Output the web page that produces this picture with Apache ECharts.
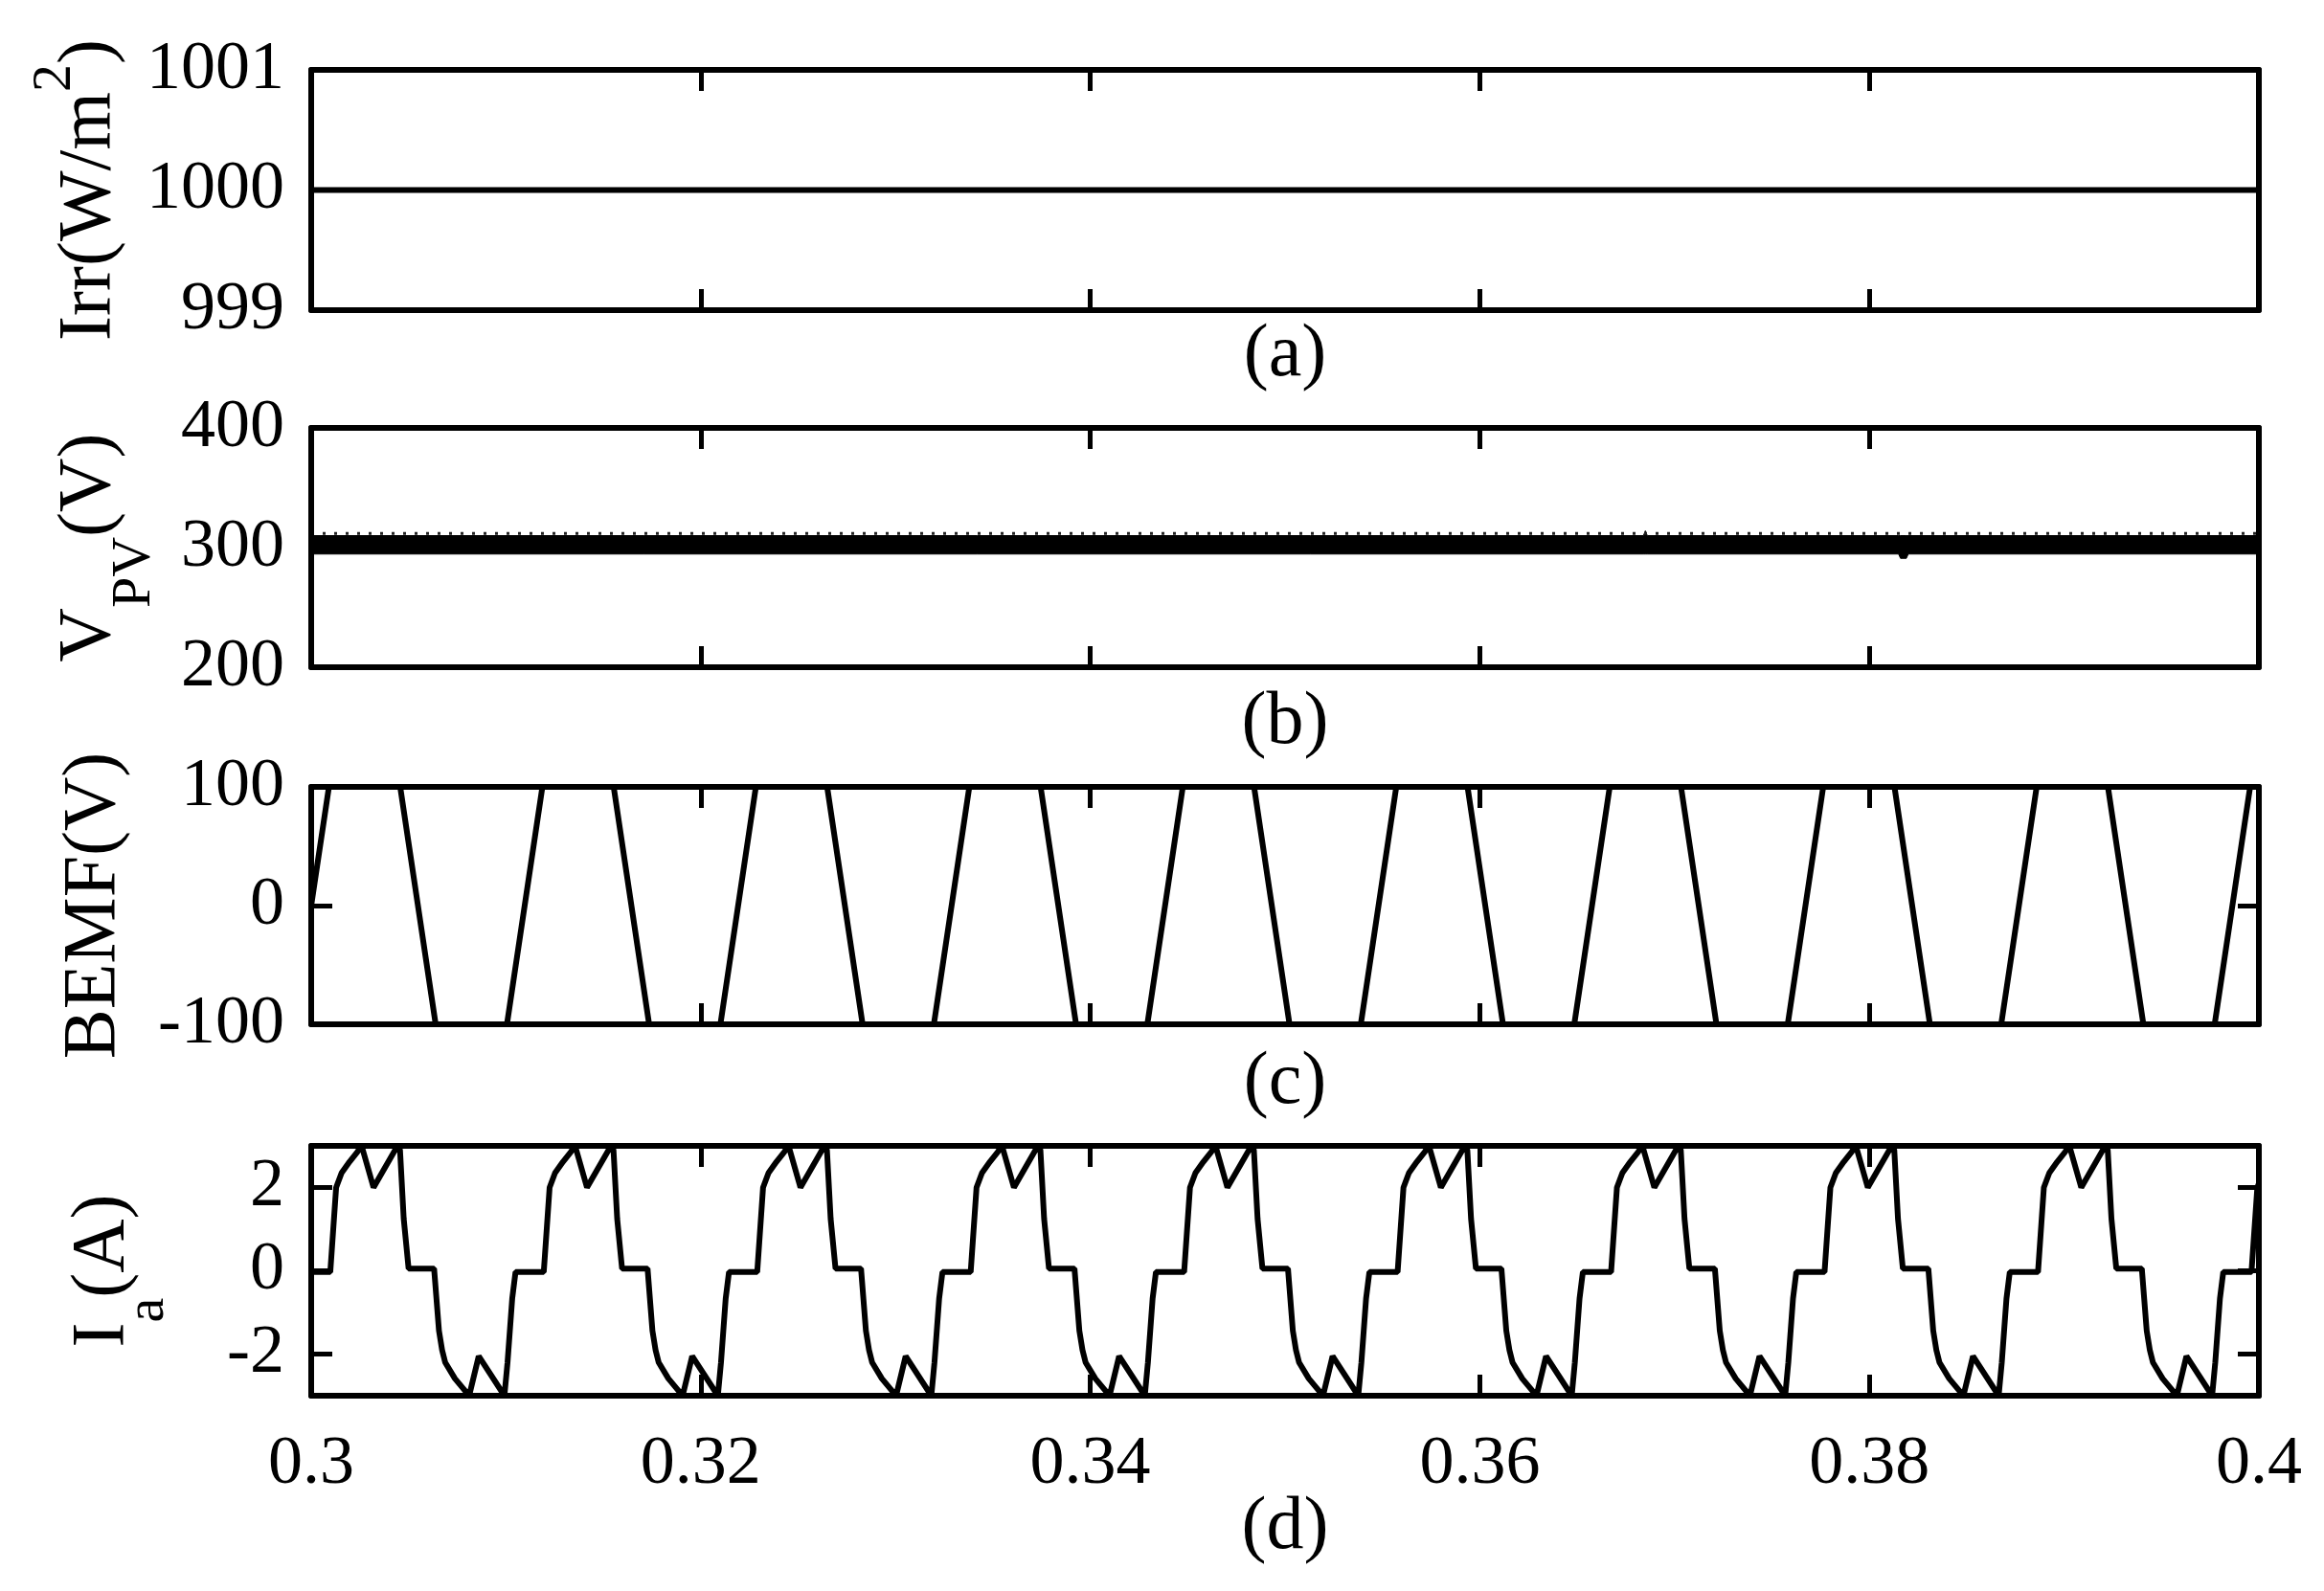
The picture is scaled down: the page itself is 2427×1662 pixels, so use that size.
<!DOCTYPE html>
<html><head><meta charset="utf-8">
<script src="https://cdn.jsdelivr.net/npm/echarts@6/dist/echarts.min.js"></script>
<style>html,body{margin:0;padding:0;background:#fff}#c{width:2427px;height:1662px}</style>
</head><body><div id="c"></div>
<script>
// ---------- data ----------
const xTicks = [0.3, 0.32, 0.34, 0.36, 0.38, 0.4];
const xTickLabels = ['0.3', '0.32', '0.34', '0.36', '0.38', '0.4'];
const yTicksIrr = [999, 1000, 1001];
const yTicksVpv = [200, 300, 400];
const yTicksBemf = [-100, 0, 100];
const yTicksIa = [-2, 0, 2];

const irrTime = [0.3, 0.4];
const irrValue = [1000, 1000];

const vpvTime  = [0.3,   0.3684, 0.3685, 0.3686, 0.3815, 0.3816, 0.3819, 0.382, 0.4];
const vpvUpper = [310,   310,    314,    310,    310,    310,    310,    310,   310];
const vpvLower = [294.6, 294.6,  294.6,  294.6,  294.6,  291,    291,    294.6, 294.6];
const vpvRippleTime = [0.3, 0.4];
const vpvRippleValue = [311.8, 311.8];

const bemfTime = [0.3,
  0.30091, 0.30457, 0.30639, 0.31005,
  0.31187, 0.31553, 0.31735, 0.32101,
  0.32283, 0.32649, 0.32831, 0.33197,
  0.33379, 0.33745, 0.33927, 0.34293,
  0.34475, 0.34841, 0.35023, 0.35389,
  0.35571, 0.35937, 0.36119, 0.36485,
  0.36667, 0.37033, 0.37215, 0.37581,
  0.37763, 0.38129, 0.38311, 0.38677,
  0.38859, 0.39225, 0.39407, 0.39773,
  0.39955, 0.4];
const bemfValue = [0,
  100, 100, -100, -100,
  100, 100, -100, -100,
  100, 100, -100, -100,
  100, 100, -100, -100,
  100, 100, -100, -100,
  100, 100, -100, -100,
  100, 100, -100, -100,
  100, 100, -100, -100,
  100, 100, -100, -100,
  100, 100];

const iaTime = [0.3,
  0.30098,0.30128,0.30156,0.30197,0.30238,0.30259,0.30320,0.30443,0.30456,0.30475,0.30500,0.30631,0.30656,0.30672,0.30688,0.30738,0.30779,0.30811,0.30860,0.30992,0.31008,0.31032,0.31049,
  0.31194,0.31224,0.31252,0.31293,0.31334,0.31355,0.31416,0.31539,0.31552,0.31571,0.31596,0.31727,0.31752,0.31768,0.31784,0.31834,0.31875,0.31907,0.31956,0.32088,0.32104,0.32128,0.32145,
  0.32290,0.32320,0.32348,0.32389,0.32430,0.32451,0.32512,0.32635,0.32648,0.32667,0.32692,0.32823,0.32848,0.32864,0.32880,0.32930,0.32971,0.33003,0.33052,0.33184,0.33200,0.33224,0.33241,
  0.33386,0.33416,0.33444,0.33485,0.33526,0.33547,0.33608,0.33731,0.33744,0.33763,0.33788,0.33919,0.33944,0.33960,0.33976,0.34026,0.34067,0.34099,0.34148,0.34280,0.34296,0.34320,0.34337,
  0.34482,0.34512,0.34540,0.34581,0.34622,0.34643,0.34704,0.34827,0.34840,0.34859,0.34884,0.35015,0.35040,0.35056,0.35072,0.35122,0.35163,0.35195,0.35244,0.35376,0.35392,0.35416,0.35433,
  0.35578,0.35608,0.35636,0.35677,0.35718,0.35739,0.35800,0.35923,0.35936,0.35955,0.35980,0.36111,0.36136,0.36152,0.36168,0.36218,0.36259,0.36291,0.36340,0.36472,0.36488,0.36512,0.36529,
  0.36674,0.36704,0.36732,0.36773,0.36814,0.36835,0.36896,0.37019,0.37032,0.37051,0.37076,0.37207,0.37232,0.37248,0.37264,0.37314,0.37355,0.37387,0.37436,0.37568,0.37584,0.37608,0.37625,
  0.37770,0.37800,0.37828,0.37869,0.37910,0.37931,0.37992,0.38115,0.38128,0.38147,0.38172,0.38303,0.38328,0.38344,0.38360,0.38410,0.38451,0.38483,0.38532,0.38664,0.38680,0.38704,0.38721,
  0.38866,0.38896,0.38924,0.38965,0.39006,0.39027,0.39088,0.39211,0.39224,0.39243,0.39268,0.39399,0.39424,0.39440,0.39456,0.39506,0.39547,0.39579,0.39628,0.39760,0.39776,0.39800,0.39817,
  0.39962,0.39992,0.40020];
const iaValue = [-0.03,
  -0.03,2.0,2.35,2.62,2.86,3.0,2.0,3.0,2.9,1.25,0.05,0.05,-1.44,-1.9,-2.2,-2.59,-2.82,-3.0,-2.05,-3.0,-2.2,-0.67,-0.03,
  -0.03,2.0,2.35,2.62,2.86,3.0,2.0,3.0,2.9,1.25,0.05,0.05,-1.44,-1.9,-2.2,-2.59,-2.82,-3.0,-2.05,-3.0,-2.2,-0.67,-0.03,
  -0.03,2.0,2.35,2.62,2.86,3.0,2.0,3.0,2.9,1.25,0.05,0.05,-1.44,-1.9,-2.2,-2.59,-2.82,-3.0,-2.05,-3.0,-2.2,-0.67,-0.03,
  -0.03,2.0,2.35,2.62,2.86,3.0,2.0,3.0,2.9,1.25,0.05,0.05,-1.44,-1.9,-2.2,-2.59,-2.82,-3.0,-2.05,-3.0,-2.2,-0.67,-0.03,
  -0.03,2.0,2.35,2.62,2.86,3.0,2.0,3.0,2.9,1.25,0.05,0.05,-1.44,-1.9,-2.2,-2.59,-2.82,-3.0,-2.05,-3.0,-2.2,-0.67,-0.03,
  -0.03,2.0,2.35,2.62,2.86,3.0,2.0,3.0,2.9,1.25,0.05,0.05,-1.44,-1.9,-2.2,-2.59,-2.82,-3.0,-2.05,-3.0,-2.2,-0.67,-0.03,
  -0.03,2.0,2.35,2.62,2.86,3.0,2.0,3.0,2.9,1.25,0.05,0.05,-1.44,-1.9,-2.2,-2.59,-2.82,-3.0,-2.05,-3.0,-2.2,-0.67,-0.03,
  -0.03,2.0,2.35,2.62,2.86,3.0,2.0,3.0,2.9,1.25,0.05,0.05,-1.44,-1.9,-2.2,-2.59,-2.82,-3.0,-2.05,-3.0,-2.2,-0.67,-0.03,
  -0.03,2.0,2.35,2.62,2.86,3.0,2.0,3.0,2.9,1.25,0.05,0.05,-1.44,-1.9,-2.2,-2.59,-2.82,-3.0,-2.05,-3.0,-2.2,-0.67,-0.03,
  -0.03,2.0,2.35];

// ---------- layout / style ----------
const FONT = 'Liberation Serif';
const X_MIN = 0.3, X_MAX = 0.4;
const layout = [
  {top: 73,   height: 251, min: 999,  max: 1001, ticks: yTicksIrr,  name: 'Irr(W/m{sup|2})', nameGap: 192, label: '(a)', labelGap: 9},
  {top: 447,  height: 250, min: 200,  max: 400,  ticks: yTicksVpv,  name: 'V{sub|PV}(V)',    nameGap: 192, label: '(b)', labelGap: 20},
  {top: 822,  height: 248, min: -100, max: 100,  ticks: yTicksBemf, name: 'BEMF(V)',         nameGap: 187, label: '(c)', labelGap: 23},
  {top: 1197, height: 261, min: -3,   max: 3,    ticks: yTicksIa,   name: 'I{sub|a}(A)',     nameGap: 178, label: '(d)', labelGap: 100}
];
const LW = 6;
const axisLine = {show: true, onZero: false, lineStyle: {color: '#000', width: LW}};
const tickStyle = {color: '#000', width: 5};
const rich = {
  sup: {fontSize: 58, lineHeight: 78, fontFamily: FONT, color: '#000', padding: [0, 0, 72, 0]},
  sub: {fontSize: 58, lineHeight: 78, fontFamily: FONT, color: '#000', padding: [94, 0, 0, 0]}
};
const xLabelFmt = v => {
  const i = xTicks.findIndex(t => Math.abs(t - v) < 1e-9);
  return i >= 0 ? xTickLabels[i] : '';
};
const yLabelFmt = v => String(Math.round(v));

const grids = [], xAxes = [], yAxes = [];
layout.forEach((p, i) => {
  grids.push({left: 325, width: 2034, top: p.top, height: p.height, containLabel: false, outerBoundsMode: 'none'});
  xAxes.push({
    type: 'value', gridIndex: i, min: X_MIN, max: X_MAX, position: 'bottom', z: 5,
    axisLine, splitLine: {show: false},
    axisTick: {show: true, inside: true, length: 22, customValues: xTicks, lineStyle: tickStyle},
    axisLabel: {show: i === 3, customValues: xTicks, formatter: xLabelFmt, margin: 36,
      fontSize: 72, fontFamily: FONT, color: '#000', showMinLabel: true, showMaxLabel: true},
    name: p.label, nameLocation: 'middle', nameGap: p.labelGap, nameMoveOverlap: false,
    nameTextStyle: {fontSize: 78, lineHeight: 78, fontFamily: FONT, color: '#000'}
  });
  xAxes.push({
    type: 'value', gridIndex: i, min: X_MIN, max: X_MAX, position: 'top', z: 5,
    axisLine, splitLine: {show: false},
    axisTick: {show: true, inside: true, length: 22, customValues: xTicks, lineStyle: tickStyle},
    axisLabel: {show: false}
  });
  yAxes.push({
    type: 'value', gridIndex: i, min: p.min, max: p.max, position: 'left', z: 5,
    axisLine, splitLine: {show: false},
    axisTick: {show: true, inside: true, length: 22, customValues: p.ticks, lineStyle: tickStyle},
    axisLabel: {show: true, customValues: p.ticks, formatter: yLabelFmt, margin: 28, fontSize: 72,
      fontFamily: FONT, color: '#000', showMinLabel: true, showMaxLabel: true},
    name: p.name, nameLocation: 'middle', nameRotate: 90, nameGap: p.nameGap, nameMoveOverlap: false,
    nameTextStyle: {fontSize: 78, lineHeight: 78, fontFamily: FONT, color: '#000', rich}
  });
  yAxes.push({
    type: 'value', gridIndex: i, min: p.min, max: p.max, position: 'right', z: 5,
    axisLine, splitLine: {show: false},
    axisTick: {show: true, inside: true, length: 22, customValues: p.ticks, lineStyle: tickStyle},
    axisLabel: {show: false}
  });
});

const pair = (ts, vs) => ts.map((t, i) => [t, vs[i]]);
const lineBase = {type: 'line', showSymbol: false, symbol: 'none', animation: false, clip: true,
  lineStyle: {color: '#000', width: LW}, z: 3};

const series = [
  Object.assign({}, lineBase, {name: 'Irr', xAxisIndex: 0, yAxisIndex: 0, data: pair(irrTime, irrValue)}),
  {
    type: 'custom', name: 'VpvBand', xAxisIndex: 2, yAxisIndex: 2, animation: false, z: 3,
    data: pair(vpvTime, vpvUpper),
    encode: {x: 0, y: 1},
    renderItem: (params, api) => {
      if (params.dataIndex !== 0) return null;
      const pts = [];
      for (let i = 0; i < vpvTime.length; i++) pts.push(api.coord([vpvTime[i], vpvUpper[i]]));
      for (let i = vpvTime.length - 1; i >= 0; i--) pts.push(api.coord([vpvTime[i], vpvLower[i]]));
      return {type: 'polygon', shape: {points: pts}, style: {fill: '#000', stroke: '#000', lineWidth: 1}};
    }
  },
  {type: 'line', name: 'VpvRipple', xAxisIndex: 2, yAxisIndex: 2, showSymbol: false, symbol: 'none',
   animation: false, z: 3, lineStyle: {color: '#222', width: 3, type: [3, 9]}, data: pair(vpvRippleTime, vpvRippleValue)},
  Object.assign({}, lineBase, {name: 'BEMF', xAxisIndex: 4, yAxisIndex: 4, data: pair(bemfTime, bemfValue)}),
  Object.assign({}, lineBase, {name: 'Ia', xAxisIndex: 6, yAxisIndex: 6, data: pair(iaTime, iaValue)})
];

const chart = echarts.init(document.getElementById('c'), null, {renderer: 'canvas'});
chart.setOption({
  backgroundColor: '#fff',
  animation: false,
  grid: grids, xAxis: xAxes, yAxis: yAxes, series
});
</script></body></html>
